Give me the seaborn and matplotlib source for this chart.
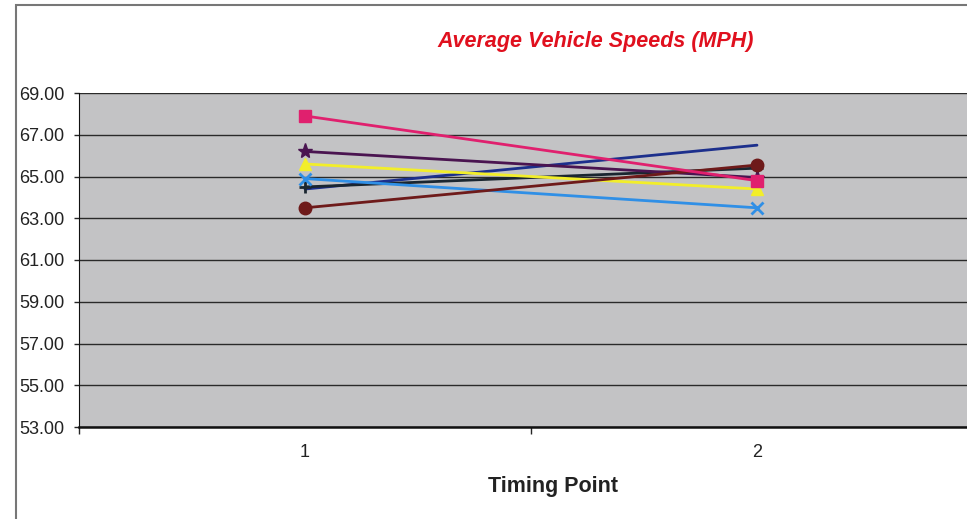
import matplotlib
matplotlib.use("Agg")
from matplotlib import pyplot as plt
from matplotlib.patches import Rectangle
import seaborn as sns
import pandas as pd

# timing points and average speed per series
timing_points = [1, 2]
navy_speeds = [64.4, 66.5]
pink_speeds = [67.9, 64.8]
purple_speeds = [66.2, 64.95]
yellow_speeds = [65.6, 64.4]
dark_speeds = [64.5, 65.4]
maroon_speeds = [63.5, 65.55]
lightblue_speeds = [64.9, 63.5]

y_ticks = [53, 55, 57, 59, 61, 63, 65, 67, 69]

series = [
    ("navy", navy_speeds, "#1c2f8c", None, 6),
    ("dark", dark_speeds, "#1a2630", "+", 9),
    ("lightblue", lightblue_speeds, "#2f8fe6", "x", 8),
    ("yellow", yellow_speeds, "#f2ee2a", "^", 9),
    ("purple", purple_speeds, "#4a1450", "*", 11),
    ("maroon", maroon_speeds, "#6e1a1a", "o", 9),
    ("pink", pink_speeds, "#e0206e", "s", 8),
]

sns.set_style("white")
plt.rcParams['font.family'] = ['Liberation Sans', 'DejaVu Sans']

fig = plt.figure(figsize=(9.67, 5.19), dpi=100)
# plot area runs off the right edge like the cropped reference
ax = fig.add_axes([79 / 967, 1 - 427 / 519, 904 / 967, 334 / 519])
ax.set_facecolor("#c3c3c5")

for name, vals, col, mk, ms in series:
    df = pd.DataFrame({"tp": timing_points, "speed": vals})
    sns.lineplot(data=df, x="tp", y="speed", ax=ax, color=col, linewidth=2,
                 marker=mk, markersize=ms, markeredgecolor=col,
                 markeredgewidth=2 if mk in ("+", "x") else 1)

ax.set_xlim(0.5, 2.5)
ax.set_ylim(53, 69)
ax.set_yticks(y_ticks)
ax.set_yticklabels([f"{v:.2f}" for v in y_ticks], fontsize=13, color="#222222")
ax.set_xticks([1, 2])
ax.set_xticklabels(["1", "2"], fontsize=13, color="#222222")
ax.set_xticks([0.5, 1.5, 2.5], minor=True)
ax.tick_params(axis="y", which="major", length=3.5, width=1, direction="out", left=True, pad=7)
ax.tick_params(axis="x", which="major", length=0, pad=12)
ax.tick_params(axis="x", which="minor", length=5, width=1, direction="out", bottom=True)
ax.grid(axis="y", color="#2a2a2a", linewidth=1)
ax.set_axisbelow(True)
for s in ["top", "right"]:
    ax.spines[s].set_visible(False)
ax.spines["left"].set_color("#111111")
ax.spines["bottom"].set_color("#111111")
ax.spines["bottom"].set_linewidth(1.8)
ax.set_xlabel("Timing Point", fontsize=15.5, fontweight="bold", color="#222222")
ax.set_ylabel("")
ax.xaxis.set_label_coords((553 - 79) / 904, -(476 - 427) / 334)

fig.text(596 / 967, 1 - 42 / 519, "Average Vehicle Speeds (MPH)", color="#e0101e",
         fontsize=15.5, fontweight="bold", style="italic", ha="center", va="center")

# outer chart border
fig.patches.append(Rectangle((16 / 967, -0.1), 1.2, 1 - 5 / 519 + 0.1, transform=fig.transFigure,
                             fill=False, edgecolor="#777777", linewidth=1.5))

fig.savefig("out.png", dpi=100)
plt.close()
